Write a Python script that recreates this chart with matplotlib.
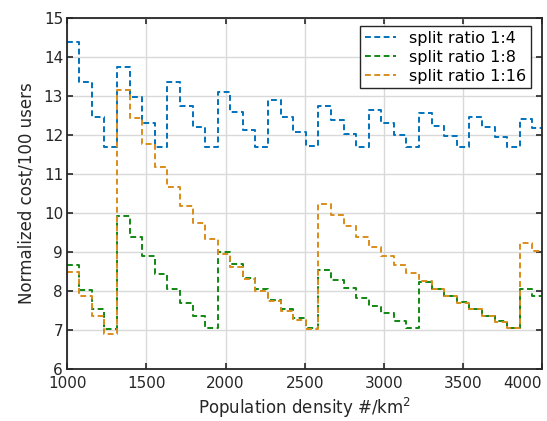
import numpy as np
import matplotlib
matplotlib.use('Agg')
import matplotlib.pyplot as plt

# step boundaries along the density axis (#/km^2)
density_edges = np.arange(996.5, 4020.0, 79.5)

cost_1_4 = [14.37, 13.36, 12.46, 11.69, 13.74, 12.97, 12.31, 11.69,
            13.35, 12.74, 12.20, 11.69, 13.09, 12.59, 12.13, 11.69,
            12.90, 12.46, 12.06, 11.70, 12.74, 12.39, 12.03, 11.69,
            12.63, 12.31, 11.99, 11.69, 12.55, 12.22, 11.97, 11.69,
            12.46, 12.20, 11.95, 11.69, 12.41, 12.16]

cost_1_8 = [8.66, 8.02, 7.52, 7.03, 9.92, 9.37, 8.88, 8.44,
            8.04, 7.68, 7.35, 7.04, 9.00, 8.68, 8.34, 8.04,
            7.77, 7.52, 7.29, 7.05, 8.53, 8.27, 8.06, 7.82,
            7.61, 7.42, 7.22, 7.05, 8.23, 8.05, 7.87, 7.70,
            7.53, 7.36, 7.22, 7.05, 8.04, 7.87]

cost_1_16 = [8.47, 7.86, 7.35, 6.89, 13.15, 12.42, 11.76, 11.18,
             10.65, 10.17, 9.73, 9.33, 8.95, 8.62, 8.30, 8.00,
             7.73, 7.48, 7.25, 7.02, 10.22, 9.94, 9.66, 9.37,
             9.13, 8.89, 8.67, 8.45, 8.25, 8.04, 7.86, 7.69,
             7.52, 7.35, 7.21, 7.05, 9.23, 9.03]

labels = ['split ratio 1:4', 'split ratio 1:8', 'split ratio 1:16']
colors = ['#0072BD', '#118811', '#D98C1A']

fig = plt.figure(figsize=(5.47, 4.21), dpi=100)
ax = fig.add_axes([0.123, 0.124, 0.868, 0.834])

for vals, lab, col in zip([cost_1_4, cost_1_8, cost_1_16], labels, colors):
    ax.step(density_edges[:len(vals) + 1], list(vals) + [vals[-1]], where='post',
            color=col, lw=1.4, dashes=(3.0, 1.8), label=lab)

ax.set_xlim(1000, 4000)
ax.set_ylim(6, 15)
ax.set_xticks([1000, 1500, 2000, 2500, 3000, 3500, 4000])
ax.set_yticks(range(6, 16))
ax.grid(True, color='#d9d9d9', lw=1.0)
ax.set_axisbelow(True)

ax.tick_params(direction='in', top=True, right=True, length=4, width=1.2,
               labelsize=11, colors='#262626')
ax.tick_params(axis='x', pad=5.5)
ax.tick_params(axis='y', pad=3)
ax.get_xticklabels()[-1].set_horizontalalignment('right')
for s in ax.spines.values():
    s.set_linewidth(1.3)
    s.set_color('#262626')

ax.set_xlabel('Population density #/km$^2$', fontsize=12, color='#262626', labelpad=3)
ax.set_ylabel('Normalized cost/100 users', fontsize=12, color='#262626', labelpad=6)

leg = ax.legend(loc='upper right', bbox_to_anchor=(0.977, 0.977), fontsize=11.5,
                fancybox=False, framealpha=1, edgecolor='#262626',
                handlelength=2.0, handletextpad=0.8, borderpad=0.3, labelspacing=0.25,
                borderaxespad=0)
leg.get_frame().set_linewidth(1.0)

fig.savefig('out.png', dpi=100)
